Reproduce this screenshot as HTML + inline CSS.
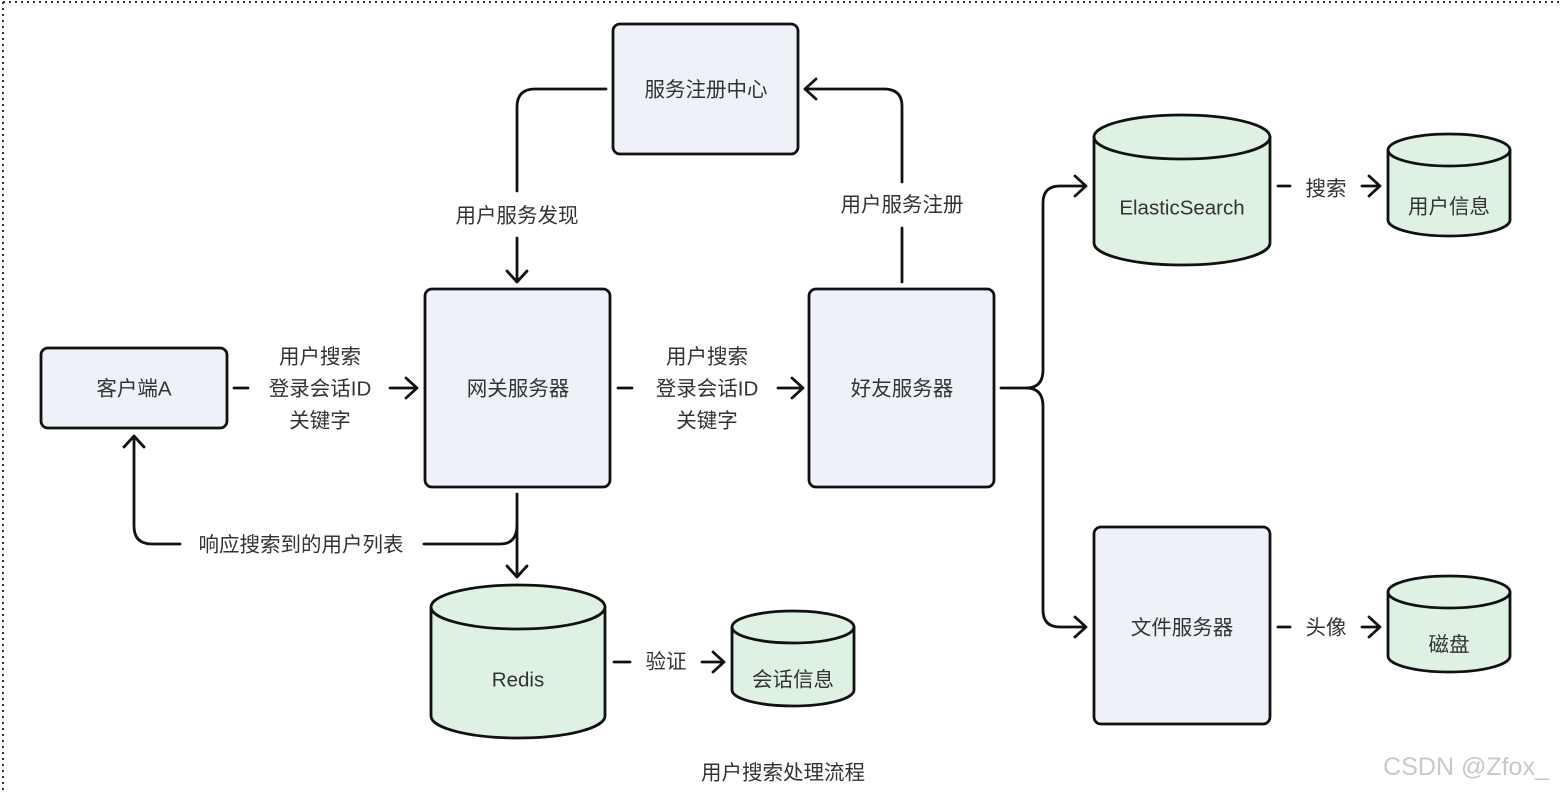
<!DOCTYPE html>
<html><head><meta charset="utf-8"><style>
html,body{margin:0;padding:0;background:#fff;width:1561px;height:793px;overflow:hidden}
svg{display:block}
text{font-family:"Liberation Sans","Noto Sans CJK SC",sans-serif;fill:#333;font-size:20.5px;text-anchor:middle;dominant-baseline:central}
.b{fill:#eff1f9;stroke:#111;stroke-width:2.8}
.c{fill:#dff1e3;stroke:#111;stroke-width:2.8}
.l{fill:none;stroke:#111;stroke-width:2.8;stroke-linecap:round;stroke-linejoin:round}
</style></head><body>
<svg width="1561" height="793" viewBox="0 0 1561 793">
<line x1="3" y1="2" x2="1561" y2="2" stroke="#333" stroke-width="2" stroke-dasharray="2,4"/>
<line x1="3" y1="2" x2="3" y2="793" stroke="#333" stroke-width="2" stroke-dasharray="2,4"/>

<rect class="b" x="41" y="348" width="186" height="80" rx="7"/>
<text x="134" y="389">客户端A</text>
<rect class="b" x="425" y="289" width="185" height="198" rx="7"/>
<text x="518" y="389">网关服务器</text>
<rect class="b" x="809" y="289" width="185" height="198" rx="7"/>
<text x="902" y="389">好友服务器</text>
<rect class="b" x="613" y="24" width="185" height="130" rx="7"/>
<text x="706" y="90">服务注册中心</text>
<rect class="b" x="1094" y="527" width="176" height="197" rx="7"/>
<text x="1182" y="628">文件服务器</text>

<path class="c" d="M1094 137 L1094 243 A88 22 0 0 0 1270 243 L1270 137 A88 22 0 0 0 1094 137 Z"/>
<path class="l" d="M1094 137 A88 22 0 0 0 1270 137"/>
<text x="1182" y="208">ElasticSearch</text>
<path class="c" d="M1388 150 L1388 220 A61 16 0 0 0 1510 220 L1510 150 A61 16 0 0 0 1388 150 Z"/>
<path class="l" d="M1388 150 A61 16 0 0 0 1510 150"/>
<text x="1449" y="207">用户信息</text>
<path class="c" d="M1388 592 L1388 656 A61 16 0 0 0 1510 656 L1510 592 A61 16 0 0 0 1388 592 Z"/>
<path class="l" d="M1388 592 A61 16 0 0 0 1510 592"/>
<text x="1449" y="645">磁盘</text>
<path class="c" d="M431 607 L431 716 A87 22 0 0 0 605 716 L605 607 A87 22 0 0 0 431 607 Z"/>
<path class="l" d="M431 607 A87 22 0 0 0 605 607"/>
<text x="518" y="680">Redis</text>
<path class="c" d="M732 627 L732 690 A61 16 0 0 0 854 690 L854 627 A61 16 0 0 0 732 627 Z"/>
<path class="l" d="M732 627 A61 16 0 0 0 854 627"/>
<text x="793" y="680">会话信息</text>

<path class="l" d="M234 388 H248"/>
<text x="320" y="357">用户搜索</text><text x="320" y="389">登录会话ID</text><text x="320" y="421">关键字</text>
<path class="l" d="M390 388 H416 M406 378 L417 388 L406 398"/>
<path class="l" d="M618 388 H632"/>
<text x="707" y="357">用户搜索</text><text x="707" y="389">登录会话ID</text><text x="707" y="421">关键字</text>
<path class="l" d="M778 388 H802 M792 378 L803 388 L792 398"/>
<path class="l" d="M606 89 H535 Q517 89 517 107 V191"/>
<text x="517" y="216">用户服务发现</text>
<path class="l" d="M517 238 V281 M507 271 L517 282 L527 271"/>
<path class="l" d="M902 282 V228"/>
<text x="902" y="205">用户服务注册</text>
<path class="l" d="M902 182 V106 Q902 89 884 89 H806 M816 79 L805 89 L816 99"/>
<path class="l" d="M517 494 V576 M507 566 L517 577 L527 566"/>
<path class="l" d="M517 525 Q517 544 500 544 H424"/>
<text x="301" y="545">响应搜索到的用户列表</text>
<path class="l" d="M180 544 H152 Q134 544 134 526 V437 M124 447 L134 436 L144 447"/>
<path class="l" d="M1001 388 H1026 Q1043 388 1043 370 V203 Q1043 186 1060 186 H1085 M1075 176 L1086 186 L1075 196"/>
<path class="l" d="M1026 388 Q1043 388 1043 406 V610 Q1043 627 1060 627 H1085 M1075 617 L1086 627 L1075 637"/>
<path class="l" d="M1278 186 H1290"/>
<text x="1326" y="189">搜索</text>
<path class="l" d="M1362 186 H1379 M1369 176 L1380 186 L1369 196"/>
<path class="l" d="M1278 627 H1290"/>
<text x="1326" y="628">头像</text>
<path class="l" d="M1362 627 H1379 M1369 617 L1380 627 L1369 637"/>
<path class="l" d="M614 662 H630"/>
<text x="666" y="662">验证</text>
<path class="l" d="M702 662 H723 M713 652 L724 662 L713 672"/>

<text x="783" y="773">用户搜索处理流程</text>
<text x="1466" y="767" style="font-size:25px;fill:#c8c8c8">CSDN @Zfox_</text>
</svg>
</body></html>
